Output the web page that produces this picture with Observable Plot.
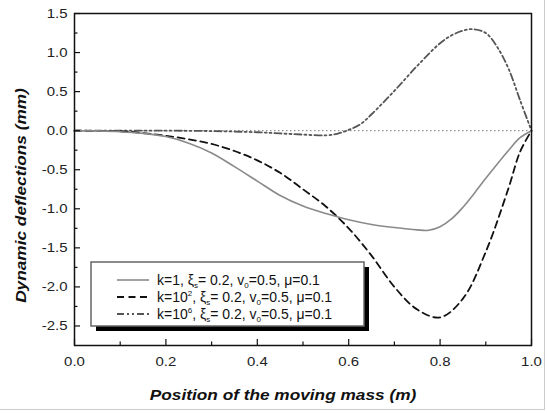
<!DOCTYPE html>
<html>
<head>
<meta charset="utf-8">
<script src="https://cdn.jsdelivr.net/npm/d3@7"></script>
<script src="https://cdn.jsdelivr.net/npm/@observablehq/plot@0.6"></script>
<style>
  html, body { margin: 0; padding: 0; background: #fff; }
  #chart { width: 547px; height: 413px; position: relative; }
</style>
</head>
<body>
<div id="chart"></div>
<script>
// ---- data ----
const xK1 = [0, 0.05, 0.1, 0.15, 0.2, 0.25, 0.3, 0.35, 0.4, 0.45, 0.5, 0.55, 0.6, 0.65, 0.7, 0.75, 0.775, 0.8, 0.825, 0.85, 0.875, 0.9, 0.95, 0.975, 1.0];
const yK1 = [0, -0.003, -0.013, -0.035, -0.075, -0.16, -0.285, -0.46, -0.645, -0.83, -0.965, -1.06, -1.14, -1.20, -1.24, -1.27, -1.275, -1.23, -1.13, -0.98, -0.80, -0.61, -0.25, -0.09, 0];

const xK2 = [0, 0.1, 0.15, 0.2, 0.25, 0.3, 0.35, 0.4, 0.45, 0.5, 0.55, 0.6, 0.65, 0.7, 0.75, 0.8, 0.85, 0.9, 0.95, 0.975, 1.0];
const yK2 = [0, -0.008, -0.03, -0.065, -0.11, -0.17, -0.26, -0.38, -0.54, -0.75, -0.97, -1.25, -1.60, -2.00, -2.29, -2.39, -2.15, -1.55, -0.73, -0.27, 0];

const xK6 = [0, 0.1, 0.2, 0.3, 0.4, 0.45, 0.5, 0.55, 0.575, 0.6, 0.625, 0.65, 0.7, 0.75, 0.8, 0.825, 0.85, 0.87, 0.9, 0.925, 0.95, 0.975, 1.0];
const yK6 = [0, 0, 0, -0.005, -0.02, -0.035, -0.05, -0.06, -0.04, 0.01, 0.08, 0.21, 0.51, 0.83, 1.12, 1.22, 1.28, 1.30, 1.25, 1.07, 0.79, 0.39, 0];

const xMajor = [0, 0.2, 0.4, 0.6, 0.8, 1.0];
const xMinor = [0.1, 0.3, 0.5, 0.7, 0.9];
const yMajor = [-2.5, -2.0, -1.5, -1.0, -0.5, 0.0, 0.5, 1.0, 1.5];
const yMinor = [-2.25, -1.75, -1.25, -0.75, -0.25, 0.25, 0.75, 1.25];

const xLabel = "Position of the moving mass (m)";
const yLabel = "Dynamic deflections (mm)";

// ---- build ----
const toPts = (xs, ys) => xs.map((x, i) => ({x, y: ys[i]}));
const k1 = toPts(xK1, yK1), k2 = toPts(xK2, yK2), k6 = toPts(xK6, yK6);

const W = 547, H = 413;
const mL = 74, mR = 16, mT = 13, mB = 68;
const fw = W - mL - mR, fh = H - mT - mB;
const FONT = "'Liberation Sans', Arial, Helvetica, sans-serif";

const plot = Plot.plot({
  width: W, height: H,
  marginLeft: mL, marginRight: mR, marginTop: mT, marginBottom: mB,
  style: {fontFamily: FONT, fontSize: "13px", color: "#222", background: "#fff"},
  x: {domain: [0, 1]},
  y: {domain: [-2.75, 1.5]},
  marks: [
    Plot.ruleY([0], {stroke: "#777", strokeWidth: 1, strokeDasharray: "1.5,2.5"}),
    Plot.line(k6, {x: "x", y: "y", stroke: "#555", strokeWidth: 1.8, strokeDasharray: "7,3,2,3,2,3", curve: "catmull-rom"}),
    Plot.line(k2, {x: "x", y: "y", stroke: "#111", strokeWidth: 1.8, strokeDasharray: "7,4.5", curve: "catmull-rom"}),
    Plot.line(k1, {x: "x", y: "y", stroke: "#8a8a8a", strokeWidth: 1.6, curve: "catmull-rom"}),
    Plot.tickX(xMajor, {x: d => d, insetTop: fh - 6, stroke: "#111", strokeWidth: 1.2}),
    Plot.tickX(xMinor, {x: d => d, insetTop: fh - 3.5, stroke: "#111", strokeWidth: 1.2}),
    Plot.tickY(yMajor, {y: d => d, insetRight: fw - 6, stroke: "#111", strokeWidth: 1.2}),
    Plot.tickY(yMinor, {y: d => d, insetRight: fw - 3.5, stroke: "#111", strokeWidth: 1.2}),
    Plot.axisX({ticks: xMajor, tickSize: 0, tickPadding: 11, tickFormat: d => d.toFixed(1), label: null, fontSize: 13}),
    Plot.axisY({ticks: yMajor, tickSize: 0, tickPadding: 7, tickFormat: d => d.toFixed(1), label: null, fontSize: 13}),
    Plot.frame({stroke: "#111", strokeWidth: 1.5}),
    Plot.text([xLabel], {frameAnchor: "bottom", dx: -20, dy: 54, text: d => d, fontWeight: "bold", fontStyle: "italic", fontSize: 15, fill: "#111"}),
    Plot.text([yLabel], {frameAnchor: "left", textAnchor: "middle", dx: -53, dy: 16, rotate: -90, text: d => d, fontWeight: "bold", fontStyle: "italic", fontSize: 15, fill: "#111"})
  ]
});

document.getElementById("chart").appendChild(plot);

// the reference's lettering is a little wider than Liberation Sans: stretch axis text horizontally
d3.select(plot).selectAll("text").each(function () {
  const len = this.getComputedTextLength();
  if (len > 0) {
    this.setAttribute("textLength", (len * 1.15).toFixed(1));
    this.setAttribute("lengthAdjust", "spacingAndGlyphs");
  }
});

// ---- legend (drawn into the plot svg) ----
const svg = d3.select(plot);
const lg = svg.append("g").attr("font-family", FONT).attr("text-anchor", "start");
const bx = 91, by = 262, bw = 273, bh = 64;
lg.append("rect").attr("x", bx + 5).attr("y", by + 5).attr("width", bw).attr("height", bh).attr("fill", "#000");
lg.append("rect").attr("x", bx).attr("y", by).attr("width", bw).attr("height", bh).attr("fill", "#fff").attr("stroke", "#666").attr("stroke-width", 1.5);

const entries = [
  {stroke: "#8a8a8a", dash: null, w: 1.6, exp: null},
  {stroke: "#111", dash: "7,4.5", w: 1.8, exp: "2"},
  {stroke: "#555", dash: "7,3,2,3,2,3", w: 1.8, exp: "6"}
];
entries.forEach((e, i) => {
  const cy = by + 18 + i * 17;
  const ln = lg.append("line").attr("x1", 117).attr("x2", 149).attr("y1", cy).attr("y2", cy)
    .attr("stroke", e.stroke).attr("stroke-width", e.w);
  if (e.dash) ln.attr("stroke-dasharray", e.dash);
  const t = lg.append("text").attr("x", 157).attr("y", cy + 5).attr("font-size", 14).attr("fill", "#111").attr("text-anchor", "start");
  if (e.exp) {
    t.append("tspan").text("k=10");
    t.append("tspan").attr("font-size", 8).attr("dy", -6).text(e.exp);
    t.append("tspan").attr("dy", 6).text(", ξ");
  } else {
    t.append("tspan").text("k=1, ξ");
  }
  t.append("tspan").attr("font-size", 8).attr("dy", 3).text("s");
  t.append("tspan").attr("dy", -3).text("= 0.2, v");
  t.append("tspan").attr("font-size", 8).attr("dy", 3).text("0");
  t.append("tspan").attr("dy", -3).text("=0.5, μ=0.1");
});

// faint image border at right and bottom
svg.append("line").attr("x1", 0).attr("x2", 545).attr("y1", 409.5).attr("y2", 409.5).attr("stroke", "#ccc");
svg.append("line").attr("x1", 544.5).attr("x2", 544.5).attr("y1", 0).attr("y2", 410).attr("stroke", "#ccc");
</script>
</body>
</html>
